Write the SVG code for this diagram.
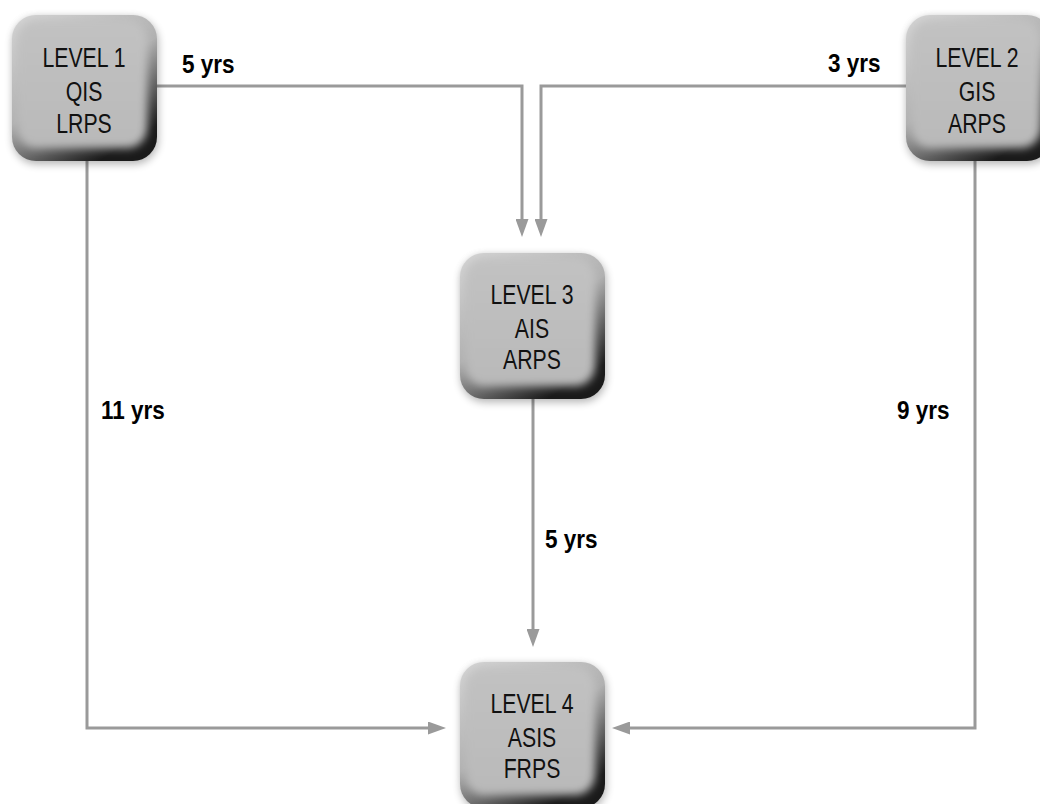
<svg xmlns="http://www.w3.org/2000/svg" width="1040" height="804" viewBox="0 0 1040 804">
<defs>
<style>
.nt{font-family:"Liberation Sans",Arial,sans-serif;font-size:28px;fill:#111;text-anchor:middle}
.lbl{font-family:"Liberation Sans",Arial,sans-serif;font-weight:bold;font-size:25px;fill:#000}
.conn{fill:none;stroke:#9a9a9a;stroke-width:3;marker-end:url(#arr)}
</style>
<marker id="arr" markerUnits="userSpaceOnUse" markerWidth="18" markerHeight="13" viewBox="0 0 18 13" refX="0" refY="6.5" orient="auto">
<path d="M0 0 L18 6.5 L0 13 Z" fill="#9a9a9a"/>
</marker>
<linearGradient id="edge" x1="0" y1="0" x2="0.6" y2="1">
<stop offset="0" stop-color="#d6d6d6"/>
<stop offset="0.55" stop-color="#b0b0b0"/>
<stop offset="1" stop-color="#1a1a1a"/>
</linearGradient>
<linearGradient id="face" x1="0" y1="0" x2="0" y2="1">
<stop offset="0" stop-color="#c2c2c2"/>
<stop offset="1" stop-color="#b9b9b9"/>
</linearGradient>
<filter id="shadow" x="-20%" y="-20%" width="140%" height="140%">
<feGaussianBlur stdDeviation="4"/>
</filter>
<filter id="soft" x="-20%" y="-20%" width="140%" height="140%">
<feGaussianBlur stdDeviation="4"/>
</filter>
<g id="box">
<rect x="1" y="3" width="145" height="146" rx="24" fill="#000" opacity="0.3" filter="url(#shadow)"/>
<rect x="0" y="0" width="145" height="146" rx="24" fill="url(#edge)"/>
<rect x="5" y="5" width="130" height="128" rx="20" fill="url(#face)" filter="url(#soft)"/>
</g>
</defs>
<g id="connectors">
<path class="conn" d="M157 86 H522 V219"/>
<path class="conn" d="M906 86 H541 V219"/>
<path class="conn" d="M87 161 V728 H428"/>
<path class="conn" d="M975 161 V728 H630"/>
<path class="conn" d="M533 398 V629"/>
</g>
<g id="labels">
<text class="lbl" transform="translate(182 73) scale(0.9 1)">5 yrs</text>
<text class="lbl" transform="translate(828 72) scale(0.9 1)">3 yrs</text>
<text class="lbl" transform="translate(101 419) scale(0.9 1)">11 yrs</text>
<text class="lbl" transform="translate(897 419) scale(0.9 1)">9 yrs</text>
<text class="lbl" transform="translate(545 548) scale(0.9 1)">5 yrs</text>
</g>
<g id="node1">
<use href="#box" x="12" y="15"/>
<g transform="translate(84 0) scale(0.76 1)">
<text class="nt" x="0" y="67">LEVEL 1</text>
<text class="nt" x="0" y="101">QIS</text>
<text class="nt" x="0" y="133">LRPS</text>
</g>
</g>
<g id="node2">
<use href="#box" x="906" y="15"/>
<g transform="translate(977 0) scale(0.76 1)">
<text class="nt" x="0" y="67">LEVEL 2</text>
<text class="nt" x="0" y="101">GIS</text>
<text class="nt" x="0" y="133">ARPS</text>
</g>
</g>
<g id="node3">
<use href="#box" x="460" y="253"/>
<g transform="translate(532 0) scale(0.76 1)">
<text class="nt" x="0" y="304">LEVEL 3</text>
<text class="nt" x="0" y="338">AIS</text>
<text class="nt" x="0" y="369">ARPS</text>
</g>
</g>
<g id="node4">
<use href="#box" x="460" y="662"/>
<g transform="translate(532 0) scale(0.76 1)">
<text class="nt" x="0" y="713">LEVEL 4</text>
<text class="nt" x="0" y="747">ASIS</text>
<text class="nt" x="0" y="778">FRPS</text>
</g>
</g>
</svg>
